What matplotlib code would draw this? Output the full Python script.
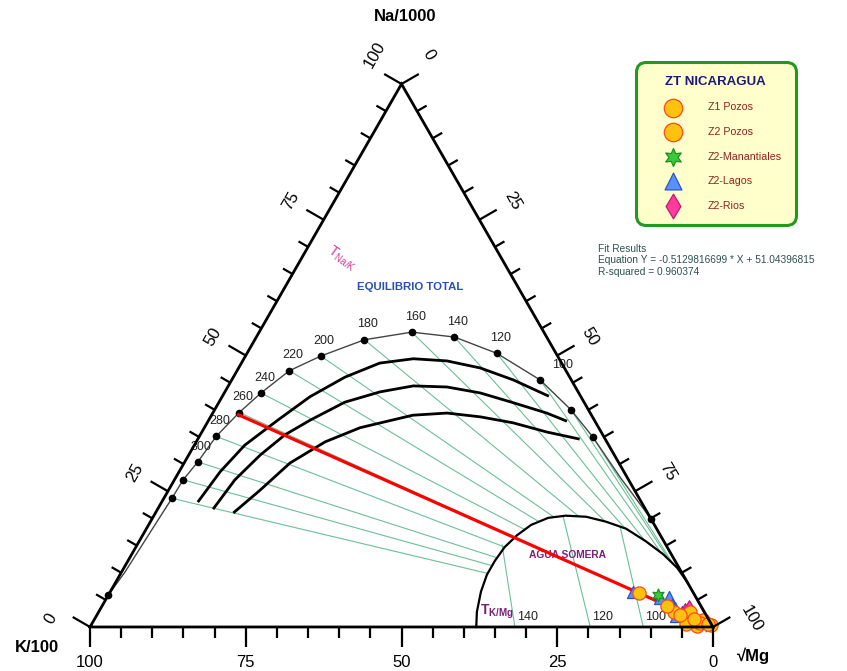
import numpy as np
import matplotlib.pyplot as plt
from matplotlib.patches import Polygon

plt.rcParams['font.family'] = ['Liberation Sans', 'DejaVu Sans']
plt.rcParams['mathtext.fontset'] = 'custom'
plt.rcParams['mathtext.rm'] = 'Liberation Sans'
plt.rcParams['mathtext.it'] = 'Liberation Sans'
plt.rcParams['mathtext.bf'] = 'Liberation Sans:bold'

# Datos leidos del diagrama (Na %, Mg %), K = 100 - Na - Mg
# curva de equilibrio total
eq_na = [5.9, 10.1, 20.3, 23.7, 27.1, 30.4, 35.1, 39.5, 43.1, 47.2, 49.9, 52.9, 54.3,
         53.4, 50.4, 45.5, 40.0, 35.0, 27.4, 19.9, 9.6, 0.4]
eq_mg = [0.0, 0.55, 1.1, 1.3, 1.4, 2.1, 2.7, 4.2, 5.9, 8.4, 12.1, 17.6, 24.5,
         31.8, 40.1, 49.5, 57.2, 63.2, 71.5, 80.1, 90.4, 99.4]

# puntos de temperatura (Na/K) sobre la curva
dot_temp = [360, 340, 320, 300, 280, 260, 240, 220, 200, 180, 160, 140, 120, 100, 80, 60, 40]
dot_na = [5.9, 23.7, 27.1, 30.4, 35.1, 39.5, 43.1, 47.2, 49.9, 52.9, 54.3, 53.4, 50.4,
          45.5, 40.0, 35.0, 19.9]
dot_mg = [0.0, 1.3, 1.4, 2.1, 2.7, 4.2, 5.9, 8.4, 12.1, 17.6, 24.5, 31.8, 40.1,
          49.5, 57.2, 63.2, 80.1]
labeled_temp = [100, 120, 140, 160, 180, 200, 220, 240, 260, 280, 300]

# curvas de equilibrio parcial
p1_na = [23.0, 28.6, 33.5, 38.1, 42.4, 46.0, 48.6, 49.4, 49.0, 47.7, 45.5, 42.5]
p1_mg = [5.8, 6.6, 8.1, 11.1, 14.1, 17.9, 22.2, 27.2, 32.8, 38.8, 45.2, 52.4]
p2_na = [21.7, 27.1, 31.7, 35.4, 38.1, 41.4, 43.3, 44.4, 44.2, 43.1, 41.3, 39.4, 37.9]
p2_mg = [8.9, 9.7, 11.5, 13.6, 16.3, 20.2, 24.9, 29.7, 35.2, 41.1, 47.3, 53.6, 57.6]
p3_na = [21.0, 25.2, 30.2, 34.1, 36.7, 39.0, 39.4, 38.7, 37.6, 35.9, 34.6]
p3_mg = [12.5, 14.7, 17.0, 20.7, 25.0, 32.3, 37.6, 43.3, 49.1, 55.4, 61.3]

# agua somera
som_na = [0.0, 2.8, 6.5, 9.6, 12.2, 14.7, 16.9, 18.8, 20.1, 20.5, 20.3, 19.4, 18.1,
          15.8, 13.4, 10.9, 8.3]
som_mg = [62.0, 60.7, 59.5, 58.9, 58.9, 59.2, 60.1, 61.4, 63.5, 66.1, 69.5, 73.1, 77.0,
          81.3, 85.3, 88.8, 91.7]

# isotermas K/Mg
kmg_temp = [140, 120, 100]
kmg_base_mg = [68.2, 80.3, 88.8]
kmg_top_na = [15.1, 20.3, 18.4]
kmg_top_mg = [58.6, 65.8, 75.9]

# recta de ajuste
fit_na = [39.2, 0.3]
fit_mg = [4.0, 99.6]

# muestras
z1_na = [6.3, 3.9, 0.6, 0.7, 0.6, 1.5, 2.2]
z1_mg = [85.0, 90.7, 95.4, 97.5, 98.9, 96.2, 93.6]
z2_na = [2.8, 1.3, 0.4, 0.2, 2.8]
z2_mg = [94.9, 97.8, 99.5, 97.3, 92.4]
man_na = [5.9, 1.7, 1.1, 0.9, 2.0, 0.4]
man_mg = [88.2, 95.5, 96.9, 98.1, 94.3, 98.7]
lag_na = [6.5, 5.3, 5.5, 3.5, 2.0, 2.8, 1.8, 4.1]
lag_mg = [83.9, 88.8, 90.2, 92.2, 93.1, 93.6, 95.1, 91.4]
rio_na = [2.8, 2.0, 3.3]
rio_mg = [94.1, 94.8, 94.5]

SQ = np.sqrt(3) / 2
PX_X = 1 / 6.23   # unidades por pixel
PX_Y = 1 / 6.27
GREEN = '#6cbf98'


def tern(na, mg):
    na = np.asarray(na, float)
    mg = np.asarray(mg, float)
    return mg + na / 2, na * SQ


fig = plt.figure(figsize=(8.47, 6.71), dpi=100)
ax = fig.add_axes([0, 0, 1, 1])
ax.set_xlim(-14.45, 121.51)
ax.set_ylim(-7.02, 100.0)
ax.axis('off')

# isotermas Na/K hacia el vertice Mg
mgx, mgy = tern(0, 100)
for t, na, mg in zip(dot_temp, dot_na, dot_mg):
    if t > 340:
        continue
    x, y = tern(na, mg)
    ax.plot([x, mgx], [y, mgy], color=GREEN, lw=0.8, zorder=1)

# agua somera
sx, sy = tern(som_na, som_mg)
poly = np.column_stack([np.append(sx, mgx), np.append(sy, mgy)])
ax.add_patch(Polygon(poly, closed=True, fc='white', ec='none', zorder=2))
ax.plot(sx, sy, color='black', lw=1.6, zorder=4)

for t, b, tn, tm in zip(kmg_temp, kmg_base_mg, kmg_top_na, kmg_top_mg):
    bx, by = tern(0, b)
    tx, ty = tern(tn, tm)
    ax.plot([bx, tx], [by, ty], color=GREEN, lw=0.8, zorder=3)
    ax.annotate(str(t), (bx, by), xytext=(9, 7), textcoords='offset points',
                ha='center', va='center', fontsize=9, color='#222222', zorder=4)

# curva de equilibrio total
ex, ey = tern(eq_na, eq_mg)
ax.plot(ex, ey, color='#444444', lw=1.0, zorder=5)
dx, dy = tern(dot_na, dot_mg)
ax.plot(dx, dy, 'o', color='black', ms=4.5, zorder=6)
for t, x, y in zip(dot_temp, dx, dy):
    if t in labeled_temp:
        off = (16, 11) if t == 100 else (2.5, 11)
        ax.annotate(str(t), (x, y), xytext=off, textcoords='offset points',
                    ha='center', va='center', fontsize=9, color='#222222', zorder=6)

for na, mg in [(p1_na, p1_mg), (p2_na, p2_mg), (p3_na, p3_mg)]:
    px, py = tern(na, mg)
    ax.plot(px, py, color='black', lw=2.0, zorder=5, solid_capstyle='butt')

# recta de ajuste
fx, fy = tern(fit_na, fit_mg)
ax.plot(fx, fy, color='#ff0000', lw=2.3, zorder=7, solid_capstyle='butt')

# muestras
kw = dict(zorder=8, linewidths=0.9)
ax.scatter(*tern(lag_na, lag_mg), s=75, marker='^', fc='#5b8ff9', ec='#2a55c8', label='Z2-Lagos', **kw)
ax.scatter(*tern(man_na, man_mg), s=85, marker=(6, 1, 0), fc='#3cc83c', ec='#1f8f1f', label='Z2-Manantiales', **kw)
ax.scatter(*tern(rio_na, rio_mg), s=80, marker='d', fc='#ff3c9c', ec='#c0187a', label='Z2-Rios', **kw)
ax.scatter(*tern(z2_na, z2_mg), s=90, marker='o', fc='#ffc20e', ec='#ff4a1a', label='Z2 Pozos', **kw)
ax.scatter(*tern(z1_na, z1_mg), s=90, marker='o', fc='#ffc20e', ec='#ff4a1a', label='Z1 Pozos', **kw)

# triangulo y ejes
trx, try_ = tern([0, 0, 100, 0], [0, 100, 0, 0])
ax.plot(trx, try_, color='black', lw=2.0, zorder=9, solid_joinstyle='miter')

c, s = 0.866, 0.5
for v in range(0, 101, 5):
    L = 20 if v % 25 == 0 else 11
    tk = dict(color='black', lw=1.6, zorder=9, solid_capstyle='butt')
    x, y = tern(v, 0)
    ax.plot([x, x - c * L * PX_X], [y, y + s * L * PX_Y], **tk)
    if v % 25 == 0:
        n = len(str(v)) - 2
        ox, oy = -c * 38 + s * 12 * n, s * 38 + c * 12 * n
        ax.annotate(str(v), (x, y), xytext=(ox * 0.72, oy * 0.72), textcoords='offset points',
                    ha='center', va='center', rotation=60, fontsize=12)
    x, y = tern(100 - v, v)
    ax.plot([x, x + c * L * PX_X], [y, y + s * L * PX_Y], **tk)
    if v % 25 == 0:
        n = len(str(v)) - 2
        ox, oy = c * 38 + s * 12 * n, s * 38 - c * 12 * n
        ax.annotate(str(v), (x, y), xytext=(ox * 0.72, oy * 0.72), textcoords='offset points',
                    ha='center', va='center', rotation=-60, fontsize=12)
    x, y = tern(0, 100 - v)
    ax.plot([x, x], [y, y - L * PX_Y], **tk)
    if v % 25 == 0:
        ax.annotate(str(v), (x, y), xytext=(0, -36 * 0.72), textcoords='offset points',
                    ha='center', va='center', fontsize=12)

ax.text(50.6, 97.3, 'Na/1000', ha='center', va='center', fontsize=12, fontweight='bold')
ax.text(-8.5, -3.35, 'K/100', ha='center', va='center', fontsize=12, fontweight='bold')
ax.text(106.5, -4.6, '\u221aMg', ha='center', va='center', fontsize=12, fontweight='bold')

ax.text(51.4, 54.2, 'EQUILIBRIO TOTAL', ha='center', va='center', fontsize=8.2,
        fontweight='bold', color='#2a50b4')
ax.text(40.4, 58.7, r'$\mathrm{T}_{\mathrm{Na/K}}$', ha='center', va='center', fontsize=10,
        rotation=-35, color='#d23c96')
ax.text(76.6, 11.5, 'AGUA SOMERA', ha='center', va='center', fontsize=7.4,
        fontweight='bold', color='#7a1f7a', zorder=4)
ax.text(65.3, 2.4, r'$\mathbf{T}_{\mathbf{K/Mg}}$', ha='center', va='center', fontsize=10,
        color='#7a1f7a', zorder=4)

ax.text(81.5, 61.1, 'Fit Results\nEquation Y = -0.5129816699 * X + 51.04396815\nR-squared = 0.960374',
        ha='left', va='top', fontsize=7.3, color='#2e5050', linespacing=1.2)

h, l = ax.get_legend_handles_labels()
order = ['Z1 Pozos', 'Z2 Pozos', 'Z2-Manantiales', 'Z2-Lagos', 'Z2-Rios']
hd = {lab: hh for hh, lab in zip(h, l)}
leg = ax.legend([hd[o] for o in order], order, loc='upper left',
                bbox_to_anchor=(636 / 847, 1 - 62 / 671), bbox_transform=fig.transFigure,
                borderaxespad=0,
                title='ZT NICARAGUA', fontsize=7.7, markerscale=1.4, labelcolor='#8b2323',
                handlelength=4.3, handletextpad=1.1, borderpad=1.3, labelspacing=1.36,
                fancybox=True, framealpha=1, facecolor='#ffffcc', edgecolor='#1f9a1f')
leg.get_title().set_fontweight('bold')
leg.get_title().set_fontsize(9.5)
leg.get_title().set_color('#1b1b7a')
leg.get_frame().set_linewidth(2.2)
leg.get_frame().set_boxstyle('round,pad=0,rounding_size=0.9')
leg.set_zorder(10)

fig.savefig('out.png', dpi=100)
